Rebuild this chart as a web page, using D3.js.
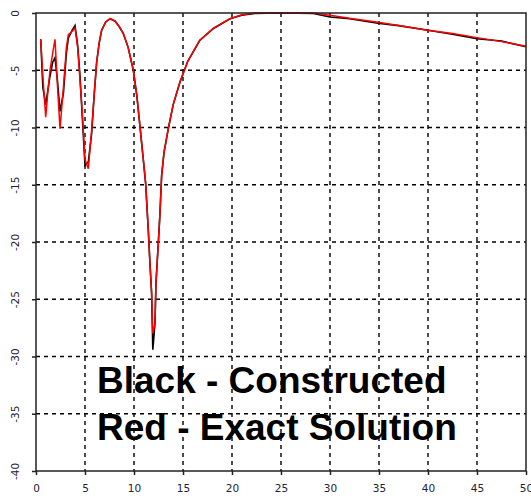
<!DOCTYPE html>
<html lang="en">
<head>
  <meta charset="UTF-8">
  <title>Constructed vs Exact</title>
  <script src="https://d3js.org/d3.v7.min.js"></script>
  <style>
    body { margin: 0; background: #fff; }
    .tick text { font-family: "DejaVu Sans", sans-serif; font-size: 10.5px; fill: #223; }
    .grid line { stroke: #000; stroke-width: 1.4px; stroke-dasharray: 4,4; }
    .legend { font-family: "Liberation Sans", Arial, sans-serif; font-weight: bold; font-size: 37px; fill: #000; }
  </style>
</head>
<body>
  <div id="chart"></div>

  <script>
    // sample positions
    const xs = [0.48, 0.7, 0.99, 1.2, 1.43, 1.7, 1.94, 2.2, 2.45, 2.8, 3.1, 3.3, 3.7, 3.98,
      4.25, 4.49, 4.75, 5.0, 5.34, 5.68, 5.95, 6.19, 6.45, 6.7, 7.1, 7.55, 8.06, 8.5, 8.91,
      9.4, 9.93, 10.3, 10.61, 10.95, 11.19, 11.46, 11.63, 11.8, 11.92, 12.14, 12.24, 12.48,
      12.65, 12.82, 13.06, 13.5, 14.0, 14.7, 15.5, 16.7, 18.1, 19.8, 21, 22.3, 25, 28.3,
      30, 32, 34.9, 37, 40, 42.5, 45, 47.5, 50];

    // red - exact solution
    const exact = [-2.3, -5.5, -9.1, -7.0, -5.0, -3.5, -2.3, -6.5, -10.1, -6.5, -3.0, -1.9, -1.6, -1.3,
      -3.0, -5.9, -9.0, -12.8, -13.6, -10.2, -7.0, -4.3, -2.6, -1.5, -0.8, -0.5, -0.7, -1.2, -1.8,
      -3.0, -5.0, -7.3, -9.9, -12.8, -14.9, -19.0, -21.9, -24.5, -28.0, -27.1, -23.6, -20.1,
      -17.5, -14.2, -12.2, -10.1, -8.0, -6.0, -4.2, -2.4, -1.35, -0.5, -0.15, 0, 0, 0,
      -0.2, -0.45, -0.8, -1.1, -1.5, -1.8, -2.15, -2.5, -2.9];

    // black - constructed
    const constructed = [-2.3, -6.5, -8.0, -6.8, -5.5, -4.3, -3.9, -6.0, -8.6, -7.0, -3.5, -2.2, -1.5, -1.1,
      -2.8, -5.5, -9.5, -13.3, -13.0, -10.5, -7.0, -4.3, -2.6, -1.5, -0.8, -0.5, -0.7, -1.2, -1.8,
      -3.0, -5.0, -7.3, -9.9, -12.8, -14.9, -19.0, -21.9, -24.5, -29.4, -27.1, -23.6, -20.1,
      -17.5, -14.2, -12.2, -10.1, -8.0, -6.0, -4.2, -2.4, -1.35, -0.5, -0.2, -0.05, 0, -0.05,
      -0.35, -0.5, -0.9, -1.1, -1.5, -1.85, -2.25, -2.45, -2.95];

    const xTicks = [0, 5, 10, 15, 20, 25, 30, 35, 40, 45, 50];
    const yTicks = [0, -5, -10, -15, -20, -25, -30, -35, -40];
    const legendLines = ["Black - Constructed", "Red - Exact Solution"];

    const W = 531, H = 498;
    const pl = 36, pr = 526, pt = 13, pb = 471;

    const svg = d3.select("#chart").append("svg")
      .attr("width", W)
      .attr("height", H);

    const x = d3.scaleLinear().domain([0, 50]).range([pl, pr]);
    const y = d3.scaleLinear().domain([-40, 0]).range([pb, pt]);

    // legend text sits under the grid
    svg.selectAll("text.legend")
      .data(legendLines)
      .enter().append("text")
      .attr("class", "legend")
      .attr("x", 97)
      .attr("y", (d, i) => 393 + i * 47)
      .text(d => d);

    // grid
    const grid = svg.append("g").attr("class", "grid");
    grid.selectAll("line.v")
      .data(xTicks.filter(d => d > 0 && d < 50))
      .enter().append("line")
      .attr("x1", d => x(d)).attr("x2", d => x(d))
      .attr("y1", pt).attr("y2", pb);
    grid.selectAll("line.h")
      .data(yTicks.filter(d => d < 0 && d > -40))
      .enter().append("line")
      .attr("y1", d => y(d)).attr("y2", d => y(d))
      .attr("x1", pl).attr("x2", pr);

    // curves
    const pts = (vals) => xs.map((d, i) => [d, vals[i]]);
    const line = d3.line().x(d => x(d[0])).y(d => y(d[1]));

    svg.append("path")
      .datum(pts(constructed))
      .attr("fill", "none")
      .attr("stroke", "#000")
      .attr("stroke-width", 1.6)
      .attr("d", line);

    svg.append("path")
      .datum(pts(exact))
      .attr("fill", "none")
      .attr("stroke", "#ff0000")
      .attr("stroke-width", 1.5)
      .attr("d", line);

    // frame
    svg.append("rect")
      .attr("x", pl).attr("y", pt)
      .attr("width", pr - pl).attr("height", pb - pt)
      .attr("fill", "none")
      .attr("stroke", "#222")
      .attr("stroke-width", 1.5);

    // axes
    const xAxis = svg.append("g")
      .attr("transform", `translate(0,${pb})`)
      .call(d3.axisBottom(x).tickValues(xTicks).tickSize(4).tickFormat(d => String(d)));
    xAxis.select(".domain").remove();
    xAxis.selectAll(".tick line").attr("stroke", "#222").attr("stroke-width", 1.5);
    xAxis.selectAll(".tick text").attr("y", 14);

    const yAxis = svg.append("g")
      .attr("transform", `translate(${pl},0)`)
      .call(d3.axisLeft(y).tickValues(yTicks).tickSize(4).tickFormat(d => String(d)));
    yAxis.select(".domain").remove();
    yAxis.selectAll(".tick line").attr("stroke", "#222").attr("stroke-width", 1.5);
    yAxis.selectAll(".tick text")
      .attr("transform", "rotate(-90)")
      .attr("text-anchor", "middle")
      .attr("x", 0)
      .attr("y", -21)
      .attr("dy", "0.35em");
  </script>
</body>
</html>
